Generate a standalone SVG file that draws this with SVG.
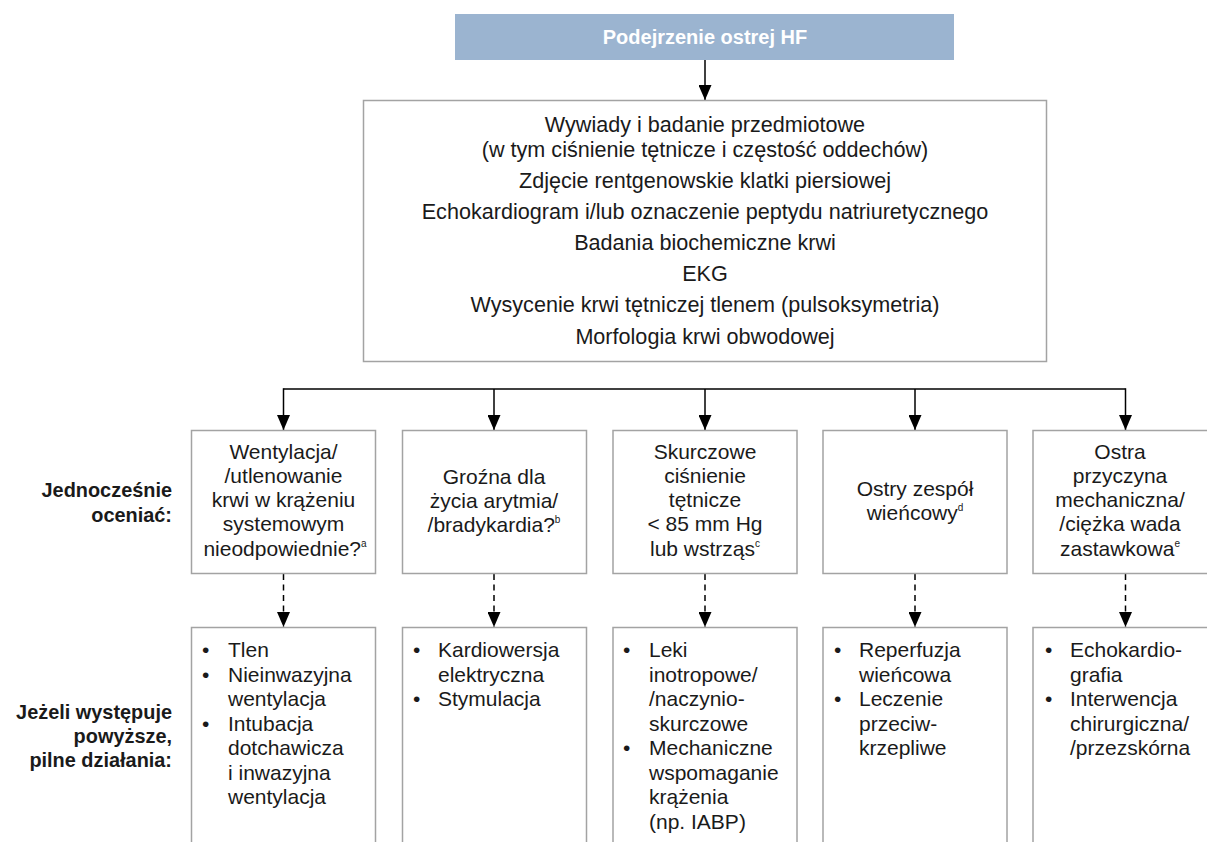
<svg xmlns="http://www.w3.org/2000/svg" width="1207" height="842" viewBox="0 0 1207 842">
<style>
.t{font-family:"Liberation Sans",Arial,sans-serif;font-size:21px;fill:#1a1a1a}
.m{font-size:21.6px}
.c{text-anchor:middle}
.b{font-family:"Liberation Sans",Arial,sans-serif;font-size:19.9px;font-weight:bold;fill:#1a1a1a;text-anchor:end}
.box{fill:#fff;stroke:#a3a3a3;stroke-width:1.5}
.ln{stroke:#000;stroke-width:1.5;fill:none}
.dash{stroke:#000;stroke-width:1.5;fill:none;stroke-dasharray:6 4.5}
.sup{font-size:10px}
</style>
<defs>
<marker id="ah" viewBox="0 0 15 13" refX="15" refY="6.5" markerWidth="15" markerHeight="13" markerUnits="userSpaceOnUse" orient="auto">
<path d="M0,0 L15,6.5 L0,13 z" fill="#000"/>
</marker>
</defs>
<g id="connectors">
<line class="ln" x1="705" y1="60" x2="705" y2="100" marker-end="url(#ah)"/>
<line class="ln" x1="283.5" y1="389" x2="1125.5" y2="389"/>
<line class="ln" x1="283.5" y1="388.25" x2="283.5" y2="430" marker-end="url(#ah)"/>
<line class="ln" x1="494" y1="389" x2="494" y2="430" marker-end="url(#ah)"/>
<line class="ln" x1="705" y1="389" x2="705" y2="430" marker-end="url(#ah)"/>
<line class="ln" x1="915" y1="389" x2="915" y2="430" marker-end="url(#ah)"/>
<line class="ln" x1="1125.5" y1="388.25" x2="1125.5" y2="430" marker-end="url(#ah)"/>
<line class="dash" x1="283.5" y1="574" x2="283.5" y2="627" marker-end="url(#ah)"/>
<line class="dash" x1="494" y1="574" x2="494" y2="627" marker-end="url(#ah)"/>
<line class="dash" x1="705" y1="574" x2="705" y2="627" marker-end="url(#ah)"/>
<line class="dash" x1="915" y1="574" x2="915" y2="627" marker-end="url(#ah)"/>
<line class="dash" x1="1125.5" y1="574" x2="1125.5" y2="627" marker-end="url(#ah)"/>
</g>
<g id="start">
<rect x="455" y="14" width="499" height="46" fill="#9bb4d0"/>
<text x="705" y="44" font-family="Liberation Sans,Arial,sans-serif" font-size="20" font-weight="bold" fill="#fff" text-anchor="middle">Podejrzenie ostrej HF</text>
</g>
<g id="assessment">
<rect class="box" x="363.5" y="100.5" width="683" height="261"/>
<text class="t m c" x="705" y="132">Wywiady i badanie przedmiotowe</text>
<text class="t m c" x="705" y="157">(w tym ciśnienie tętnicze i częstość oddechów)</text>
<text class="t m c" x="705" y="188">Zdjęcie rentgenowskie klatki piersiowej</text>
<text class="t m c" x="705" y="219">Echokardiogram i/lub oznaczenie peptydu natriuretycznego</text>
<text class="t m c" x="705" y="250">Badania biochemiczne krwi</text>
<text class="t m c" x="705" y="281">EKG</text>
<text class="t m c" x="705" y="312">Wysycenie krwi tętniczej tlenem (pulsoksymetria)</text>
<text class="t m c" x="705" y="344">Morfologia krwi obwodowej</text>
</g>
<g id="labels">
<text class="b" x="172" y="497">Jednocześnie</text>
<text class="b" x="172" y="522">oceniać:</text>
<text class="b" x="172" y="719">Jeżeli występuje</text>
<text class="b" x="172" y="743">powyższe,</text>
<text class="b" x="172" y="767">pilne działania:</text>
</g>
<g id="q1">
<rect class="box" x="191.5" y="430.5" width="184" height="143"/>
<text class="t c" x="283.5" y="459">Wentylacja/</text>
<text class="t c" x="283.5" y="483">/utlenowanie</text>
<text class="t c" x="283.5" y="507">krwi w krążeniu</text>
<text class="t c" x="283.5" y="531">systemowym</text>
<text class="t c" x="285" y="556">nieodpowiednie?<tspan class="sup" dy="-9">a</tspan></text>
</g>
<g id="q2">
<rect class="box" x="402.5" y="430.5" width="184" height="143"/>
<text class="t c" x="494" y="484">Groźna dla</text>
<text class="t c" x="494" y="508">życia arytmia/</text>
<text class="t c" x="494" y="532">/bradykardia?<tspan class="sup" dy="-9">b</tspan></text>
</g>
<g id="q3">
<rect class="box" x="613" y="430.5" width="184" height="143"/>
<text class="t c" x="705" y="459">Skurczowe</text>
<text class="t c" x="705" y="483">ciśnienie</text>
<text class="t c" x="705" y="507">tętnicze</text>
<text class="t c" x="705" y="531">&lt; 85 mm Hg</text>
<text class="t c" x="705" y="556">lub wstrząs<tspan class="sup" dy="-9">c</tspan></text>
</g>
<g id="q4">
<rect class="box" x="823" y="430.5" width="184" height="143"/>
<text class="t c" x="915" y="496">Ostry zespół</text>
<text class="t c" x="915" y="520">wieńcowy<tspan class="sup" dy="-9">d</tspan></text>
</g>
<g id="q5">
<rect class="box" x="1033" y="430.5" width="190" height="143"/>
<text class="t c" x="1120" y="459">Ostra</text>
<text class="t c" x="1120" y="483">przyczyna</text>
<text class="t c" x="1120" y="507">mechaniczna/</text>
<text class="t c" x="1120" y="531">/ciężka wada</text>
<text class="t c" x="1120" y="556">zastawkowa<tspan class="sup" dy="-9">e</tspan></text>
</g>
<g id="a1">
<rect class="box" x="191.5" y="627.5" width="184" height="240"/>
<text class="t" x="202" y="657">•</text><text class="t" x="228" y="657">Tlen</text>
<text class="t" x="202" y="682">•</text><text class="t" x="228" y="682">Nieinwazyjna</text>
<text class="t" x="228" y="706">wentylacja</text>
<text class="t" x="202" y="731">•</text><text class="t" x="228" y="731">Intubacja</text>
<text class="t" x="228" y="755">dotchawicza</text>
<text class="t" x="228" y="780">i inwazyjna</text>
<text class="t" x="228" y="804">wentylacja</text>
</g>
<g id="a2">
<rect class="box" x="402.5" y="627.5" width="184" height="240"/>
<text class="t" x="413" y="657">•</text><text class="t" x="438" y="657">Kardiowersja</text>
<text class="t" x="438" y="682">elektryczna</text>
<text class="t" x="413" y="706">•</text><text class="t" x="438" y="706">Stymulacja</text>
</g>
<g id="a3">
<rect class="box" x="613" y="627.5" width="184" height="240"/>
<text class="t" x="623" y="657">•</text><text class="t" x="649" y="657">Leki</text>
<text class="t" x="649" y="682">inotropowe/</text>
<text class="t" x="649" y="706">/naczynio-</text>
<text class="t" x="649" y="731">skurczowe</text>
<text class="t" x="623" y="755">•</text><text class="t" x="649" y="755">Mechaniczne</text>
<text class="t" x="649" y="780">wspomaganie</text>
<text class="t" x="649" y="804">krążenia</text>
<text class="t" x="649" y="829">(np. IABP)</text>
</g>
<g id="a4">
<rect class="box" x="823" y="627.5" width="184" height="240"/>
<text class="t" x="834" y="657">•</text><text class="t" x="859" y="657">Reperfuzja</text>
<text class="t" x="859" y="682">wieńcowa</text>
<text class="t" x="834" y="706">•</text><text class="t" x="859" y="706">Leczenie</text>
<text class="t" x="859" y="731">przeciw-</text>
<text class="t" x="859" y="755">krzepliwe</text>
</g>
<g id="a5">
<rect class="box" x="1033" y="627.5" width="190" height="240"/>
<text class="t" x="1045" y="657">•</text><text class="t" x="1070" y="657">Echokardio-</text>
<text class="t" x="1070" y="682">grafia</text>
<text class="t" x="1045" y="706">•</text><text class="t" x="1070" y="706">Interwencja</text>
<text class="t" x="1070" y="731">chirurgiczna/</text>
<text class="t" x="1070" y="755">/przezskórna</text>
</g>
</svg>
